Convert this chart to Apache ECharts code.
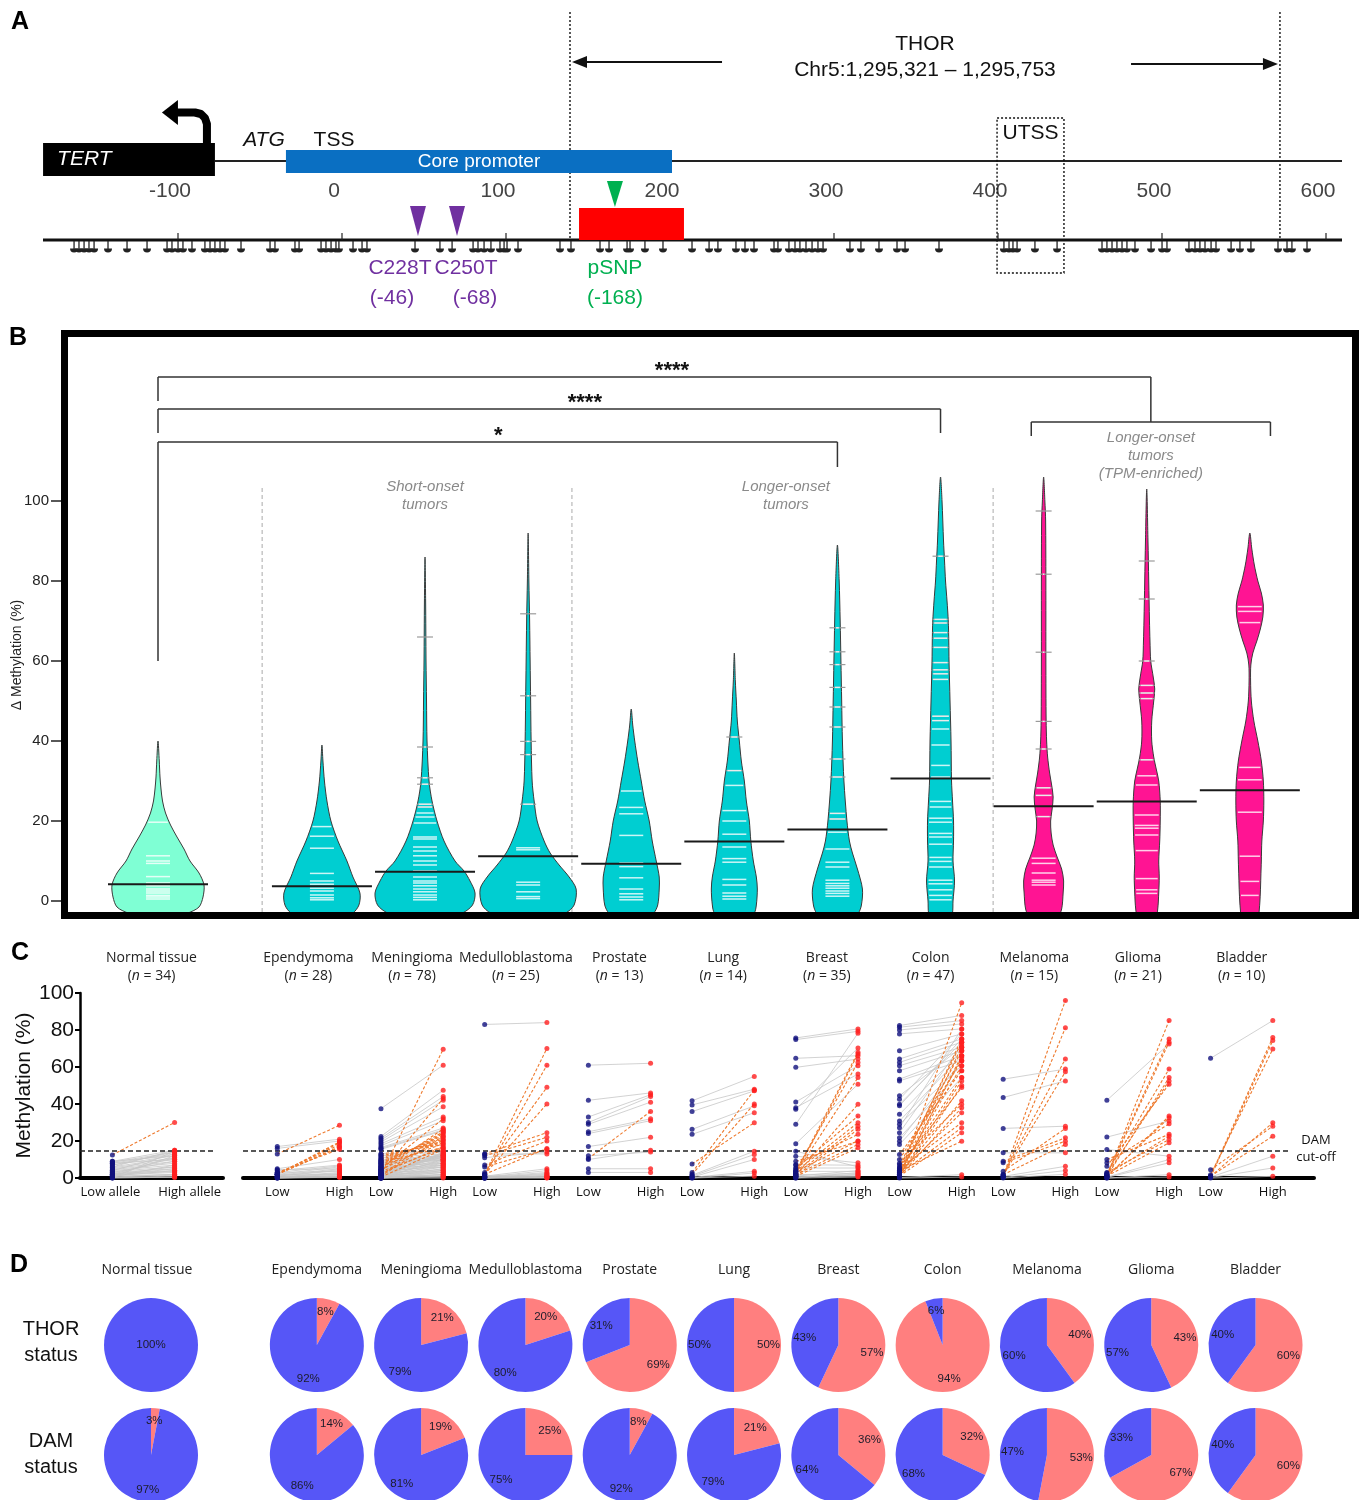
<!DOCTYPE html>
<html><head><meta charset="utf-8">
<script src="https://cdn.jsdelivr.net/npm/echarts@6/dist/echarts.min.js"></script>
<style>html,body{margin:0;padding:0;background:#fff}#c{width:1364px;height:1500px}</style>
</head><body><div id="c"></div>
<script>
// ================= DATA =================
const groups = ['Normal tissue','Ependymoma','Meningioma','Medulloblastoma','Prostate','Lung','Breast','Colon','Melanoma','Glioma','Bladder'];
const groupN = [34,28,78,25,13,14,35,47,15,21,10];

// Panel A (positions in bp relative to TSS)
const tickLabelsA = [-100,0,100,200,300,400,500,600];
const tertRegion = [-177.4,-72.6];
const corePromoter = [-29.3,206.1];
const thorBounds = [143.9,576.8];
const thorRegionBox = [149.4,213.4];
const utssRegion = [404.3,445.1];
const mutationNames = ['C228T','C250T','pSNP'];
const mutationCodes = ['(-46)','(-68)','(-168)'];
const mutationPos = [51.2,75,171.3];
const cpgSites = [-158.5,-155.5,-152.4,-149.4,-146.3,-137.8,-126.2,-114,-101.8,-98.8,-95.1,-92.1,-86.6,
  -78.7,-75.6,-72.6,-69.5,-66.5,-56.7,-39,-36,-23.8,-21.3,-7.9,-4.9,-1.8,1.2,3,11.6,17.1,20.1,49.4,64.6,72,
  84.8,87.8,91.5,95.7,101.2,103.7,105.5,112.2,137.8,144.5,162.2,167.7,178.7,180.5,189.6,200.6,218.3,
  228.7,234.1,245.1,250.6,256.1,268.3,270.7,277.4,281.1,284.1,287.8,291.5,295.1,298.2,314.6,321.3,332.3,
  343.3,348.2,368.9,408.5,411.6,414,416.5,427.4,440.9,468.3,471.3,474.4,477.4,480.5,483.5,488.4,498.2,
  504.9,507.9,521.3,525,528,531.1,534.8,537.8,547,552.4,559.1,575.6,581.1,584.1,593.3];

// Panel B : violin density profiles [value, relative density], observations, medians
const violinDensity = [
  [[-4.5,0],[-4,0.3],[-3,0.6],[-1.5,0.82],[1,0.9],[4,0.92],[7,0.82],[10,0.64],[13,0.52],[16,0.38],[19,0.25],[22,0.15],[25,0.09],[28,0.06],[31,0.04],[35,0.025],[40,0]],
  [[-4.5,0],[-4,0.4],[-3,0.62],[-1,0.74],[2,0.76],[6,0.62],[10,0.5],[15,0.32],[20,0.18],[25,0.1],[30,0.05],[35,0.02],[39,0]],
  [[-4.5,0],[-4,0.45],[-3,0.75],[-1,0.95],[2,1.0],[5,0.9],[7.5,0.78],[10,0.6],[15,0.38],[20,0.24],[25,0.14],[30,0.08],[40,0.04],[50,0.03],[60,0.02],[75,0.012],[86,0]],
  [[-4.5,0],[-4,0.45],[-3,0.75],[-1,0.92],[3,0.96],[6,0.82],[9,0.62],[12,0.44],[15,0.32],[20,0.18],[25,0.12],[30,0.08],[40,0.06],[50,0.05],[60,0.04],[70,0.03],[80,0.015],[92,0]],
  [[-4.5,0],[-4,0.3],[-3,0.45],[-1,0.53],[3,0.56],[6,0.56],[10,0.5],[15,0.42],[20,0.36],[25,0.27],[30,0.2],[35,0.13],[40,0.07],[44,0.03],[48,0]],
  [[-4.5,0],[-4,0.28],[-3,0.4],[-1,0.44],[3,0.46],[6,0.44],[10,0.38],[15,0.33],[20,0.3],[25,0.24],[30,0.2],[35,0.14],[40,0.1],[45,0.06],[50,0.04],[55,0.02],[62,0]],
  [[-4.5,0],[-4,0.3],[-3,0.42],[-1,0.48],[3,0.5],[8,0.4],[12,0.3],[15,0.24],[20,0.19],[30,0.13],[40,0.1],[50,0.085],[60,0.07],[70,0.055],[80,0.035],[89,0]],
  [[-4.5,0],[-4,0.2],[-3,0.24],[0,0.25],[5,0.28],[10,0.25],[15,0.26],[20,0.26],[25,0.24],[30,0.22],[40,0.21],[50,0.19],[60,0.17],[65,0.165],[70,0.155],[75,0.13],[80,0.1],[85,0.08],[90,0.06],[100,0.03],[106,0]],
  [[-4.5,0],[-4,0.28],[-2,0.36],[2,0.39],[5,0.4],[8,0.36],[11,0.27],[14,0.19],[17,0.15],[20,0.14],[23,0.17],[26,0.19],[29,0.16],[32,0.12],[36,0.08],[40,0.06],[45,0.05],[60,0.045],[80,0.045],[95,0.04],[100,0.025],[106,0]],
  [[-4.5,0],[-4,0.18],[-2,0.22],[2,0.24],[6,0.25],[10,0.24],[15,0.26],[20,0.27],[25,0.27],[30,0.24],[33,0.19],[36,0.14],[40,0.1],[45,0.1],[50,0.14],[53,0.16],[56,0.13],[60,0.08],[65,0.065],[70,0.055],[80,0.04],[90,0.025],[103,0]],
  [[-4.5,0],[-4,0.16],[-2,0.19],[2,0.21],[6,0.22],[10,0.23],[15,0.24],[20,0.27],[25,0.28],[30,0.27],[35,0.23],[40,0.16],[45,0.08],[50,0.03],[55,0.015],[59,0.02],[62,0.06],[65,0.14],[68,0.21],[71,0.26],[74,0.27],[77,0.23],[80,0.16],[84,0.09],[88,0.04],[92,0]]
];
const violinObs = [
  [19.7,11.3,10,9.4,6.1,4.5,3.8,3,2.5,2,1.4,1,0.5],
  [18.6,16.2,13.2,6.9,5,4.2,3.2,2.5,1.5,0.8,0.3],
  [66,38.5,30.8,29.2,24.2,23.5,22,21,19.5,16,15.5,13.5,12.5,11.3,10,9,7.5,6,5,4.5,3.8,3,2.3,1.5,0.9,0.3],
  [71.8,51.3,39.9,36.6,24.2,13.3,12.8,4.7,4,2.3,1.1,0.6],
  [27.5,23.4,21.8,16.4,9.5,8.6,5.8,3,1.8,1,0.3],
  [41,32.6,28.9,22.6,20,16.7,13.5,10.6,9.7,5.4,4,2,1.2,0.5],
  [68.3,62.3,59.1,53.4,48.5,43.5,35.5,31,21.9,20.5,17.2,13,9.7,8.5,5.2,4.4,3.8,3.2,2.5,1.9,1.2],
  [86.2,70.4,69.5,67.1,65.7,63.4,59.6,57.8,56.8,55.4,46.2,45.1,43,39,33.9,31,24.9,23.5,20.7,19.7,16.9,16,14.2,10.9,9.9,8.5,5.2,4.3,2.8,1.4,0.3],
  [97.5,81.7,62.2,44.9,38,28.3,26.4,21.1,10.7,9.4,7,5.2,4.7,4],
  [85,75.5,60,53.9,52,50.6,35.3,31.3,29,21.5,18.9,18.2,16.5,12.6,5.6,2.8,1.9],
  [73.6,72.4,69.6,33.4,30.3,22.2,11.2,4.9,1.4]
];
const violinMedian = [4.2,3.7,7.3,11.2,9.3,14.9,17.9,30.6,23.7,24.9,27.7];
const yTicksB = [0,20,40,60,80,100];
const sigLabels = ['****','****','*'];

// Panel C : paired [low allele, high allele] methylation (%)
const damCutoff = 15;
const pairsNormal = [[12.5,30],[9,15],[8.5,14],[8,13],[7,12],[6,11],[5.5,10],[5,9],[4.5,8],[4,7],[3.5,6],[3,5],[2.5,4],[2,3.5],[1.5,3],[1,2],[0.5,1.5],[0.3,1],[0,0.5],[0,14.5],[1,12],[2,11],[0.5,7],[3,9],[6,15],[1.5,5],[0.2,0.3],[7,14],[4,13],[2,6],[1,4],[0.5,2],[8,10],[9,12]];
const pairsEpendymoma = [[13,28.5],[17,21],[16,20],[2,19.5],[2,19],[2.5,18],[2,17],[2,16.5],[3,15.5],[5,10],[4,7],[3,6.5],[2,6],[1.5,5],[1,4.5],[1,4],[0.5,3],[0.5,2.5],[0.3,2],[0.2,1.5],[0,1],[0,0.5],[4.5,5],[3,3.5],[1,1],[0.5,0.8],[0,0.3],[2,2]];
const pairsMeningioma = [[37.5,61],[22.5,47.5],[21.5,44],[20.5,42],[19.5,38.5],[18.5,33],[17.5,31],[16.5,27],[16,26],[15.5,25.5],
  [2,69.6],[3,43],[5,32],[4,26.5],[6,25],[7,24],[8,23],[9,22],[10,21],[11,20],[12,19],[13,18],[2.5,17],[3.5,16],[1.5,24.5],[4.5,20.5],[6.5,18.5],[1,22.5],[0.5,15.5],[8.5,16.5],
  [12,14],[11,13],[10,12],[9.5,11],[9,10],[8,9.5],[7,14.5],[6,13],[5,12],[4,11],[3,10],[2,9],[1.5,8],[1,7],[0.5,6],[0.3,5],[0,4],[0,3],[0.2,2],[0.5,1],
  [1,1.5],[2,3],[3,4],[4,6],[5,7],[6,8],[0,14],[0.5,13.5],[1,12.5],[2,11.5],[0,0],[0.3,0.5],[0,10],[1,5],[2,6],[3,7],[4,8],[5,9],[6,10],[7,11],[8,12],[0,2],[0.5,3],[1,4],[13,14.5],[2,13],[3,12],[0,1]];
const pairsMedulloblastoma = [[83,84],[2,70],[1.5,61],[3,49],[2,40],[13,24.5],[12,22],[7,20],[2,16],[6,15.5],[11,14],[1,5],[0.5,4],[0.5,3],[0,2.5],[0.3,2],[0,1.5],[0,1],[1,0.5],[0.5,0.5],[0.2,0.3],[13,13],[0,0.2],[1,1],[0,0]];
const pairsProstate = [[61,62],[42,46],[33,45],[30,44],[29,41],[25,32],[24,31],[17,22],[10.5,36],[12,14],[10,15],[5,5],[3,3]];
const pairsLung = [[41.7,54.9],[39.5,48],[35.9,47.1],[26.3,39],[23.6,35.3],[7.6,29.9],[3,47.5],[2,40],[1.5,14.5],[1,12.7],[0.5,10],[0.3,3.6],[0,2.7],[0,1]];
const pairsBreast = [[75.7,80.6],[74.8,79.3],[64.7,66.1],[59.8,64.3],[41.1,60.7],[38,56.2],[37.1,70.3],[29,78.3],[18.5,50.7],
  [3,68],[2,67],[4,62.5],[2.5,54.3],[1.5,39.9],[5,33.5],[3.5,29.9],[2,28],[1,26.3],[7,23.6],[9,19.9],[1.8,18.1],[0.9,16.3],[3.6,20],
  [11.8,8.2],[7.2,6.9],[5.4,5.4],[3.6,3.6],[1.8,2.4],[0.9,1.5],[0.5,1],[0,0.5],[0,3],[0.5,2],[1,4],[14.5,6]];
const pairsColon = [[82.4,87.9],[81.5,85.1],[80,83.3],[77.9,80.6],[68.8,77.9],[64.3,75.2],[62.5,73.4],[60.7,70.7],[58,68.8],[53.4,66.1],[52.5,63.4],[44.4,70.7],[42.6,77.9],[39.9,73.4],[39,75.2],[34.4,68.8],[30.8,66.1],[29,60.7],[27.2,80.6],[24.5,72],[21.7,58],[19.9,63.4],[18.1,54.3],
  [0.9,94.7],[3.6,75.2],[5.4,73.4],[2,70.7],[7.2,68.8],[1,66.1],[10,63.4],[3,60.7],[12.7,58],[4,54.3],[1.5,52.5],[6,48.9],[2.5,41.7],[8,39.9],[1,38],[3,35.3],[5,29.9],[2,27.2],[1,24.5],[4,19.9],[0.5,50],[2,65],
  [0.3,1.8],[0,0.5]];
const pairsMelanoma = [[53.4,58.9],[43.5,52.5],[26.8,28],[1,96],[0.5,81.2],[2,64.3],[1.5,57.4],[3.6,26.8],[9,21.7],[8.2,19.9],[1.8,18.1],[13.6,13.6],[0.9,6.3],[0.3,4],[0,2]];
const pairsGlioma = [[1,85.1],[2,75.2],[1.5,73.4],[2.7,58.9],[0.9,54.3],[1.8,52.5],[6.3,50.7],[0.5,33.5],[1,32.6],[8.2,29.3],[10,23.6],[2,22.6],[3,20.8],[1,19],[42,72.5],[22.1,30.8],[15.4,11.8],[0.5,10],[0.3,8.2],[0,1.8],[0,0.5]];
const pairsBladder = [[64.7,85.1],[1,76],[0.5,74.3],[1.8,69.7],[0.9,29.9],[4.5,28],[1,22.6],[0.5,11.8],[0.3,5.4],[0,0.9]];
const pairSets = [pairsNormal,pairsEpendymoma,pairsMeningioma,pairsMedulloblastoma,pairsProstate,pairsLung,pairsBreast,pairsColon,pairsMelanoma,pairsGlioma,pairsBladder];

// Panel D : percentages
const thorPos = [0,8,21,20,69,50,57,94,40,43,60];
const thorNeg = [100,92,79,80,31,50,43,6,60,57,40];
const damPos = [3,14,19,25,8,21,36,32,53,67,60];
const damNeg = [97,86,81,75,92,79,64,68,47,33,40];

// ================= LAYOUT / STYLE =================
const FA = "'Liberation Sans', Arial, Helvetica, sans-serif";
const FU = "'Open Sans', 'Noto Sans', sans-serif";
const SLOT = i => i === 0 ? 0 : 0.59 + i;
const B_X0 = 158, B_U = 103.1;
const C_X0 = 143.5, C_U = 103.7;
const D_X0 = 151, D_U = 104.3;
const bx = s => B_X0 + B_U * s;
const cxp = s => C_X0 + C_U * s;
const dxp = s => D_X0 + D_U * s;
const A_X0 = 334, A_U = 1.64;
const A_MIN = (43 - A_X0) / A_U, A_MAX = (1342 - A_X0) / A_U;
const VHW = 50;
const VCOL = ['#7fffd4','#00ced1','#00ced1','#00ced1','#00ced1','#00ced1','#00ced1','#00ced1','#ff1493','#ff1493','#ff1493'];
const PAIR_DX = 0.3;
const RED = '#ff7f7f', BLUE = '#5656f7';

function interpD(prof, v){
  if (v <= prof[0][0]) return prof[0][1];
  for (let k = 1; k < prof.length; k++){
    if (v <= prof[k][0]) { const a = prof[k-1], b = prof[k]; const t = (v - a[0]) / (b[0] - a[0]); return a[1] + t * (b[1] - a[1]); }
  }
  return 0;
}
function txt(x, y, text, font, fill, align, extra){
  return Object.assign({type:'text', x:x, y:y, silent:true, z:50,
    style:{text:text, font:font, fill:fill||'#111', align:align||'center', verticalAlign:'middle', textAlign:align||'center', textVerticalAlign:'middle'}}, extra||{});
}
function tline(x1,y1,x2,y2,stroke,lw,dash){
  const s = {stroke:stroke, lineWidth:lw}; if (dash) s.lineDash = dash;
  return {type:'line', shape:{x1:x1,y1:y1,x2:x2,y2:y2}, style:s};
}
function stxt(x, y, text, font, fill){
  return {type:'text', x:x, y:y, style:{text:text, font:font, fill:fill, align:'center', verticalAlign:'middle', textAlign:'center', textVerticalAlign:'middle'}};
}

// ================= PANEL A RENDER =================
function renderA(params, api){
  const X = v => api.coord([v, 0])[0];
  const ch = [];
  const Y_UP = 161, Y_LOW = 240;
  thorBounds.forEach(v => ch.push(tline(X(v), 12, X(v), Y_LOW, '#111', 1.4, [2,2])));
  ch.push(tline(X(tertRegion[1]), Y_UP, X(A_MAX), Y_UP, '#222', 2));
  ch.push(tline(X(A_MIN), Y_LOW, X(A_MAX), Y_LOW, '#111', 3));
  tickLabelsA.forEach(v => ch.push(tline(X(v)+8, Y_LOW-7, X(v)+8, Y_LOW, '#222', 1.2)));
  // TERT
  ch.push({type:'rect', shape:{x:X(tertRegion[0]), y:143, width:X(tertRegion[1])-X(tertRegion[0]), height:33}, style:{fill:'#000'}});
  ch.push({type:'text', x:X(tertRegion[0])+14, y:159, style:{text:'TERT', font:'italic 21px '+FA, fill:'#fff', align:'left', verticalAlign:'middle', textAlign:'left', textVerticalAlign:'middle'}});
  const sx = X(tertRegion[1]) - 8;
  ch.push({type:'polyline', shape:{points:[[sx,144],[sx,124],[sx-2,118],[sx-6,114],[sx-12,112.5],[sx-30,112.5]]}, style:{stroke:'#000', lineWidth:8, fill:null, lineJoin:'round'}});
  ch.push({type:'polygon', shape:{points:[[sx-29,100],[sx-29,125],[sx-45,112.5]]}, style:{fill:'#000'}});
  // core promoter
  ch.push({type:'rect', shape:{x:X(corePromoter[0]), y:150, width:X(corePromoter[1])-X(corePromoter[0]), height:23}, style:{fill:'#0a6fc2'}});
  ch.push(stxt((X(corePromoter[0])+X(corePromoter[1]))/2, 161.5, 'Core promoter', '19px '+FA, '#fff'));
  ch.push(stxt(X(-42.7), 140, 'ATG', 'italic 21px '+FA, '#111'));
  ch.push(stxt(X(0), 140, 'TSS', '21px '+FA, '#111'));
  tickLabelsA.forEach(v => ch.push(stxt(X(v), 191, String(v), '21px '+FA, '#444')));
  // THOR arrows
  const tl = X(thorBounds[0]), tr = X(thorBounds[1]);
  ch.push(tline(X(236.6), 62, tl+12, 62, '#111', 2));
  ch.push({type:'polygon', shape:{points:[[tl+2,62],[tl+17,56],[tl+17,68]]}, style:{fill:'#111'}});
  ch.push(tline(X(486), 64, tr-12, 64, '#111', 2));
  ch.push({type:'polygon', shape:{points:[[tr-2,64],[tr-17,58],[tr-17,70]]}, style:{fill:'#111'}});
  const tm = (tl + tr) / 2;
  ch.push(stxt(tm, 44, 'THOR', '21px '+FA, '#111'));
  ch.push(stxt(tm, 70, 'Chr5:1,295,321 \u2013 1,295,753', '21px '+FA, '#111'));
  // UTSS
  ch.push({type:'rect', shape:{x:X(utssRegion[0]), y:118, width:X(utssRegion[1])-X(utssRegion[0]), height:155}, style:{fill:null, stroke:'#111', lineWidth:1.4, lineDash:[2,2]}});
  ch.push(stxt((X(utssRegion[0])+X(utssRegion[1]))/2, 133, 'UTSS', '21px '+FA, '#111'));
  // red region
  ch.push({type:'rect', shape:{x:X(thorRegionBox[0]), y:208, width:X(thorRegionBox[1])-X(thorRegionBox[0]), height:32}, style:{fill:'#ff0000'}});
  // mutations
  const mcol = ['#7030a0','#7030a0','#00b050'];
  const mdx = [[-18,-26],[9,18],[0,0]];
  mutationPos.forEach((v,k) => {
    const x = X(v);
    if (k < 2) ch.push({type:'polygon', shape:{points:[[x-8,206],[x+8,206],[x,236]]}, style:{fill:mcol[k]}});
    else ch.push({type:'polygon', shape:{points:[[x-8,181],[x+8,181],[x,207]]}, style:{fill:mcol[k]}});
    ch.push(stxt(x+mdx[k][0], 268, mutationNames[k], '21px '+FA, mcol[k]));
    ch.push(stxt(x+mdx[k][1], 298, mutationCodes[k], '21px '+FA, mcol[k]));
  });
  return {type:'group', children:ch};
}
function renderCpG(params, api){
  const x = api.coord([api.value(0), 0])[0];
  return {type:'group', children:[
    tline(x, 241, x, 249, '#222', 1.3),
    {type:'sector', shape:{cx:x, cy:248.5, r:4, r0:0, startAngle:0, endAngle:Math.PI, clockwise:true}, style:{fill:'#222'}}
  ]};
}

// ================= PANEL B RENDER =================
function renderViolin(params, api){
  const s = api.value(0), i = api.value(2);
  const cx = api.coord([s, 0])[0];
  const Y = v => api.coord([s, v])[1];
  const prof = violinDensity[i];
  const pts = [];
  prof.forEach(p => pts.push([cx + p[1]*VHW, Y(p[0])]));
  for (let k = prof.length - 2; k >= 1; k--) pts.push([cx - prof[k][1]*VHW, Y(prof[k][0])]);
  const ch = [{type:'polygon', shape:{points:pts, smooth:0.3}, style:{fill:VCOL[i], stroke:'#3a3a3a', lineWidth:1}}];
  violinObs[i].forEach(v => {
    const hw = interpD(prof, v) * VHW, y = Y(v);
    if (hw < 10) ch.push(tline(cx-8, y, cx+8, y, '#9a9a9a', 1.2));
    const w = Math.min(12, hw - 1.5);
    if (w > 0.6) ch.push({type:'line', shape:{x1:cx-w,y1:y,x2:cx+w,y2:y}, style:{stroke:'#ffffff', lineWidth:1.5, opacity:0.8}});
  });
  const ym = Y(api.value(1));
  ch.push(tline(cx-50, ym, cx+50, ym, '#1a1a1a', 2));
  return {type:'group', children:ch};
}
function renderBrackets(params, api){
  const P = (s, v) => api.coord([s, v]);
  const ch = [];
  const C = '#333', W = 1.5;
  const seg = (s1,v1,s2,v2) => { const a = P(s1,v1), b = P(s2,v2); ch.push(tline(a[0],a[1],b[0],b[1],C,W)); };
  const subL = SLOT(8) - 0.12, subR = SLOT(10) + 0.2, subM = (subL + subR) / 2;
  seg(0,131,subM,131); seg(0,131,0,125); seg(subM,131,subM,119.75);
  seg(subL,119.75,subR,119.75); seg(subL,119.75,subL,116.25); seg(subR,119.75,subR,116.25);
  seg(0,123,SLOT(7),123); seg(0,123,0,117); seg(SLOT(7),123,SLOT(7),117);
  seg(0,114.75,SLOT(6),114.75); seg(0,114.75,0,60); seg(SLOT(6),114.75,SLOT(6),108.5);
  const lab = [[4.985,131],[4.14,123],[3.3,114.75]];
  lab.forEach((l,k) => { const p = P(l[0], l[1]); ch.push(stxt(p[0], p[1]-6, sigLabels[k], 'bold 22px '+FA, '#111')); });
  [1.01, 4.015, 8.1].forEach(s => { const a = P(s, 103.25), b = P(s, -2.75); ch.push(tline(a[0],a[1],b[0],b[1],'#aaaaaa',1,[4,3])); });
  return {type:'group', children:ch};
}

// ================= PANEL C RENDER =================
function renderPair(params, api){
  const p1 = api.coord([api.value(0), api.value(1)]);
  const p2 = api.coord([api.value(2), api.value(3)]);
  const dam = api.value(4) === 1;
  return {type:'line', shape:{x1:p1[0],y1:p1[1],x2:p2[0],y2:p2[1]},
    style: dam ? {stroke:'#ee7a2e', lineWidth:1.1, lineDash:[3,2]} : {stroke:'#c6c6c6', lineWidth:0.8}};
}
function pairData(idxs, dam){
  const out = [];
  idxs.forEach(i => { const s = SLOT(i);
    pairSets[i].forEach(p => { const d = (p[0] < damCutoff && p[1] > damCutoff) ? 1 : 0;
      if (d === dam) out.push([s - PAIR_DX, p[0], s + PAIR_DX, p[1], d]); }); });
  return out;
}
function dotData(idxs, which){
  const out = [];
  idxs.forEach(i => { const s = SLOT(i);
    pairSets[i].forEach(p => out.push([which === 0 ? s - PAIR_DX : s + PAIR_DX, p[which]])); });
  return out;
}
const idxC1 = [0], idxC2 = [1,2,3,4,5,6,7,8,9,10];
const C1min = (80 - C_X0)/C_U, C1max = (223 - C_X0)/C_U;
const C2min = (243 - C_X0)/C_U, C2max = (1314 - C_X0)/C_U;
const damLine = (a, b) => ({silent:true, symbol:['none','none'], label:{show:false}, animation:false,
  lineStyle:{color:'#222', type:[5,3], width:1.5}, data:[[{coord:[a, damCutoff]},{coord:[b, damCutoff]}]]});

// ================= GRAPHIC TEXT =================
const G = [];
G.push(txt(20,22,'A','bold 25px '+FA,'#000'));
G.push(txt(18,338,'B','bold 25px '+FA,'#000'));
G.push(txt(20,953,'C','bold 25px '+FA,'#000'));
G.push(txt(19,1265,'D','bold 25px '+FA,'#000'));
G.push({type:'rect', z:100, silent:true, shape:{x:64.5, y:333.5, width:1291, height:582}, style:{fill:null, stroke:'#000', lineWidth:7}});
G.push(txt(17,655,'\u0394 Methylation (%)','14px '+FA,'#222','center',{rotation:Math.PI/2}));
const gi = 'italic 15px '+FA, gc = '#8a8a8a';
const sMid = bx((SLOT(1)+SLOT(3))/2), lMid = bx((SLOT(4)+SLOT(7))/2), tMid = bx((SLOT(8)-0.12+SLOT(10)+0.2)/2);
G.push(txt(sMid,487,'Short-onset',gi,gc)); G.push(txt(sMid,505,'tumors',gi,gc));
G.push(txt(lMid,487,'Longer-onset',gi,gc)); G.push(txt(lMid,505,'tumors',gi,gc));
G.push(txt(tMid,438,'Longer-onset',gi,gc)); G.push(txt(tMid,456,'tumors',gi,gc)); G.push(txt(tMid,474,'(TPM-enriched)',gi,gc));
groups.forEach((g,i) => {
  const c = cxp(SLOT(i)) + (i === 0 ? 8 : 0);
  G.push(txt(c, 958, g, '14px '+FU, '#222'));
  G.push({type:'text', x:c, y:976, silent:true, z:50, style:{text:'({i|n} = '+groupN[i]+')', font:'14px '+FU, fill:'#222', align:'center', verticalAlign:'middle', textAlign:'center', textVerticalAlign:'middle',
    rich:{i:{fontStyle:'italic', fontSize:14, fontFamily:FU, fill:'#222', color:'#222'}}}});
  const lx = cxp(SLOT(i)-PAIR_DX), hx = cxp(SLOT(i)+PAIR_DX);
  G.push(txt(i === 0 ? lx - 2 : lx, 1192, i === 0 ? 'Low allele' : 'Low', '13px '+FU, '#111'));
  G.push(txt(i === 0 ? hx + 15 : hx, 1192, i === 0 ? 'High allele' : 'High', '13px '+FU, '#111'));
  G.push(txt(dxp(SLOT(i)) - (i === 0 ? 4 : 0), 1270, g, '14px '+FU, '#222'));
});
G.push(txt(1316,1140,'DAM','13px '+FU,'#111'));
G.push(txt(1316,1157,'cut-off','13px '+FU,'#111'));
G.push(txt(51,1329,'THOR','20px '+FA,'#111')); G.push(txt(51,1355,'status','20px '+FA,'#111'));
G.push(txt(51,1441,'DAM','20px '+FA,'#111')); G.push(txt(51,1467,'status','20px '+FA,'#111'));

// ================= SERIES =================
const series = [];
series.push({type:'custom', xAxisIndex:0, yAxisIndex:0, clip:false, silent:true, data:[[0,0]], renderItem:renderA, z:3});
series.push({type:'custom', xAxisIndex:0, yAxisIndex:0, clip:false, silent:true, data:cpgSites.map(v => [v,0]), renderItem:renderCpG, z:4});
series.push({type:'custom', xAxisIndex:1, yAxisIndex:1, clip:true, silent:true, data:groups.map((g,i) => [SLOT(i), violinMedian[i], i]), renderItem:renderViolin, z:3});
series.push({type:'custom', xAxisIndex:1, yAxisIndex:1, clip:false, silent:true, data:[[0,0]], renderItem:renderBrackets, z:2});
[[idxC1,2,C1min,(215-C_X0)/C_U],[idxC2,3,C2min,(1290-C_X0)/C_U]].forEach(cfg => {
  const [idx, ax, a, b] = cfg;
  series.push({type:'custom', xAxisIndex:ax, yAxisIndex:ax, clip:false, silent:true, data:pairData(idx,0), renderItem:renderPair, z:2});
  series.push({type:'custom', xAxisIndex:ax, yAxisIndex:ax, clip:false, silent:true, data:pairData(idx,1), renderItem:renderPair, z:3});
  series.push({type:'scatter', xAxisIndex:ax, yAxisIndex:ax, silent:true, symbolSize:5, data:dotData(idx,0), itemStyle:{color:'#12127e'}, z:5, markLine:damLine(a,b)});
  series.push({type:'scatter', xAxisIndex:ax, yAxisIndex:ax, silent:true, symbolSize:5, data:dotData(idx,1), itemStyle:{color:'#ff1f1f'}, z:5});
});
[[thorPos,thorNeg,1345],[damPos,damNeg,1455]].forEach(row => {
  const [pos, neg, cy] = row;
  groups.forEach((g,i) => {
    const center = [dxp(SLOT(i)), cy];
    series.push({type:'pie', silent:true, center:center, radius:[0,47], startAngle:90, clockwise:true, animation:false,
      label:{show:false}, labelLine:{show:false}, itemStyle:{borderWidth:0},
      data:[{value:pos[i], name:'high', itemStyle:{color:RED}}, {value:neg[i], name:'low', itemStyle:{color:BLUE}}]});
    const lab = v => ({show: v > 0, position: v >= 100 ? 'center' : 'inside', formatter: v + '%', fontSize:11.5, fontFamily:FA, color:'#1c1c2a'});
    series.push({type:'pie', silent:true, center:center, radius:[16,47], startAngle:90, clockwise:true, animation:false, z:4,
      labelLine:{show:false}, itemStyle:{color:'rgba(0,0,0,0)', borderWidth:0},
      data:[{value:pos[i], name:'h', label:lab(pos[i])}, {value:neg[i], name:'l', label:lab(neg[i])}]});
  });
});

const option = {
  animation:false,
  backgroundColor:'#ffffff',
  textStyle:{fontFamily:FA},
  graphic:{elements:G},
  grid:[
    {left:43, top:0, width:1299, height:300, outerBoundsMode:'none'},
    {left:68, top:337, width:1284, height:575, outerBoundsMode:'none'},
    {left:80, top:993, width:143, height:185, outerBoundsMode:'none'},
    {left:243, top:993, width:1071, height:185, outerBoundsMode:'none'}
  ],
  xAxis:[
    {gridIndex:0, type:'value', min:A_MIN, max:A_MAX, show:false},
    {gridIndex:1, type:'value', min:(68-B_X0)/B_U, max:(1352-B_X0)/B_U, show:false},
    {gridIndex:2, type:'value', min:C1min, max:C1max, axisLine:{show:true, onZero:false, lineStyle:{color:'#000', width:4}}, axisTick:{show:false}, axisLabel:{show:false}, splitLine:{show:false}},
    {gridIndex:3, type:'value', min:C2min, max:C2max, axisLine:{show:true, onZero:false, lineStyle:{color:'#000', width:4}}, axisTick:{show:false}, axisLabel:{show:false}, splitLine:{show:false}}
  ],
  yAxis:[
    {gridIndex:0, type:'value', min:0, max:1, show:false},
    {gridIndex:1, type:'value', min:-2.75, max:141, axisLine:{show:false, onZero:false},
      axisTick:{show:true, length:17, customValues:yTicksB, lineStyle:{color:'#222', width:1.5}},
      axisLabel:{show:true, customValues:yTicksB, margin:19, fontSize:15, fontFamily:FA, color:'#222'}, splitLine:{show:false}},
    {gridIndex:2, type:'value', min:0, max:100, interval:20, axisLine:{show:true, onZero:false, lineStyle:{color:'#000', width:2.5}},
      axisTick:{show:true, length:5, lineStyle:{color:'#000', width:2}},
      axisLabel:{fontSize:21, fontFamily:FA, color:'#111', margin:6}, splitLine:{show:false},
      name:'Methylation (%)', nameLocation:'middle', nameGap:44, nameTextStyle:{fontSize:21, fontFamily:FA, color:'#111'}},
    {gridIndex:3, type:'value', min:0, max:100, show:false}
  ],
  series:series
};
const chart = echarts.init(document.getElementById('c'), null, {renderer:'canvas', width:1364, height:1500});
chart.setOption(option);
</script></body></html>
